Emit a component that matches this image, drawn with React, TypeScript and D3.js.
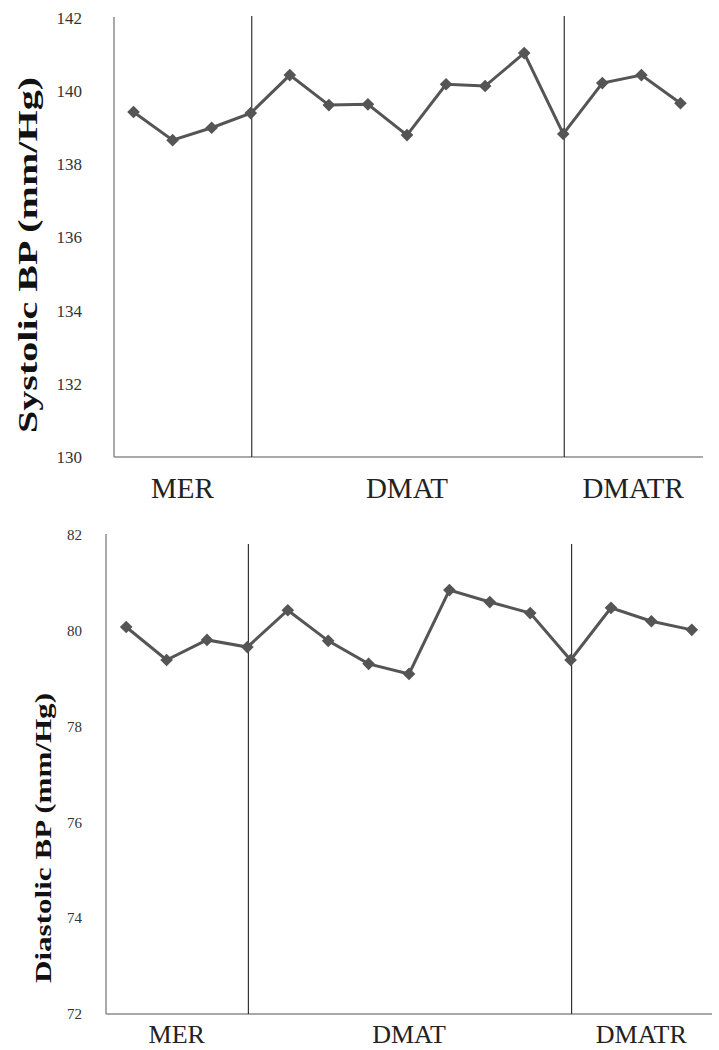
import React, { useEffect, useRef } from "react";
import * as d3 from "d3";

const sessions = ["S1", "S2", "S3", "S4", "S5", "S6", "S7", "S8", "S9", "S10", "S11", "S12", "S13", "S14", "S15"];
const groups = ["MER", "DMAT", "DMATR"];
const dividers = ["S4", "S12"];

const systolic = [139.43, 138.66, 139.0, 139.4, 140.44, 139.62, 139.64, 138.8, 140.19, 140.14, 141.04, 138.83, 140.22, 140.44, 139.67];
const diastolic = [80.08, 79.39, 79.81, 79.66, 80.43, 79.79, 79.31, 79.1, 80.85, 80.6, 80.37, 79.39, 80.48, 80.2, 80.02];

const sysTicks = [130, 132, 134, 136, 138, 140, 142];
const diaTicks = [72, 74, 76, 78, 80, 82];

const W = 719;
const H = 1050;

const App = () => {
  const svgRef = useRef(null);

  useEffect(() => {
    const svg = d3.select(svgRef.current);
    svg.selectAll("*").remove();

    const panels = [
      {
        values: systolic, ticks: sysTicks, title: "Systolic BP (mm/Hg)",
        left: 114, right: 700, axisRight: 703, top: 18, bottom: 457, lineTop: 16,
        tickX: 82, tickSize: 17, titleX: 27, titleY: 255, titleLen: 356, titleSize: 28,
        labelY: 498, labelSize: 29,
      },
      {
        values: diastolic, ticks: diaTicks, title: "Diastolic BP (mm/Hg)",
        left: 106, right: 712, axisRight: 712, top: 535, bottom: 1014, lineTop: 544,
        tickX: 82, tickSize: 15, titleX: 43, titleY: 838, titleLen: 290, titleSize: 24,
        labelY: 1043, labelSize: 26,
      },
    ];

    panels.forEach((p) => {
      const g = svg.append("g");
      const x = d3.scaleBand().domain(sessions).range([p.left, p.right]);
      const cx = (s) => x(s) + x.bandwidth() / 2;
      const y = d3.scaleLinear().domain(d3.extent(p.ticks)).range([p.bottom, p.top]);

      // axes
      g.append("line")
        .attr("x1", p.left).attr("x2", p.left)
        .attr("y1", p.top - 1).attr("y2", p.bottom)
        .attr("stroke", "#8c8c8c").attr("stroke-width", 1.5);
      g.append("line")
        .attr("x1", p.left).attr("x2", p.axisRight)
        .attr("y1", p.bottom).attr("y2", p.bottom)
        .attr("stroke", "#8c8c8c").attr("stroke-width", 1.5);

      g.selectAll(".tick")
        .data(p.ticks)
        .join("text")
        .attr("x", p.tickX)
        .attr("y", (d) => y(d))
        .attr("dy", "0.35em")
        .attr("text-anchor", "end")
        .attr("font-family", "Liberation Serif, serif")
        .attr("font-size", p.tickSize)
        .attr("fill", "#333")
        .text((d) => d);

      // group dividers
      g.selectAll(".div")
        .data(dividers)
        .join("line")
        .attr("x1", (d) => cx(d) + 1).attr("x2", (d) => cx(d) + 1)
        .attr("y1", p.lineTop).attr("y2", p.bottom)
        .attr("stroke", "#333").attr("stroke-width", 1.2);

      // group labels centred between dividers
      const edges = [p.left, ...dividers.map(cx), p.axisRight];
      g.selectAll(".grp")
        .data(groups)
        .join("text")
        .attr("x", (d, i) => (edges[i] + edges[i + 1]) / 2)
        .attr("y", p.labelY)
        .attr("text-anchor", "middle")
        .attr("font-family", "Liberation Serif, serif")
        .attr("font-size", p.labelSize)
        .attr("fill", "#222")
        .text((d) => d);

      // y title
      g.append("text")
        .attr("transform", `translate(${p.titleX},${p.titleY}) rotate(-90)`)
        .attr("text-anchor", "middle")
        .attr("dy", "0.35em")
        .attr("font-family", "Liberation Serif, serif")
        .attr("font-weight", "bold")
        .attr("font-size", p.titleSize)
        .attr("textLength", p.titleLen)
        .attr("lengthAdjust", "spacingAndGlyphs")
        .attr("fill", "#111")
        .text(p.title);

      const line = d3.line()
        .x((d, i) => cx(sessions[i]))
        .y((d) => y(d));

      g.append("path")
        .datum(p.values)
        .attr("d", line)
        .attr("fill", "none")
        .attr("stroke", "#555")
        .attr("stroke-width", 3);

      g.selectAll(".pt")
        .data(p.values)
        .join("path")
        .attr("d", d3.symbol(d3.symbolSquare, 80))
        .attr("transform", (d, i) => `translate(${cx(sessions[i])},${y(d)}) rotate(45)`)
        .attr("fill", "#555");
    });
  }, []);

  return (
    <svg
      ref={svgRef}
      width={W}
      height={H}
      style={{ position: "absolute", left: 0, top: 0, background: "#fff" }}
    ></svg>
  );
};

export default App;
